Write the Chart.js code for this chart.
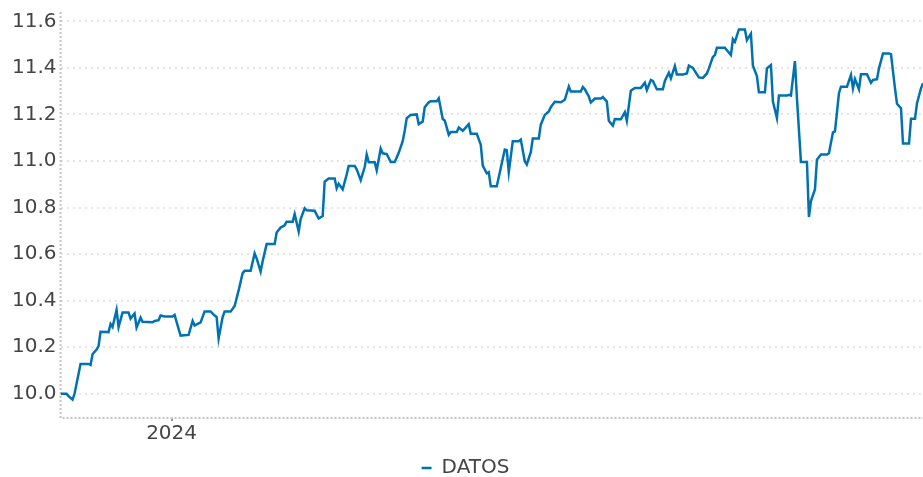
<!DOCTYPE html>
<html>
<head>
<meta charset="utf-8">
<script src="https://cdn.jsdelivr.net/npm/chart.js@4.4.0/dist/chart.umd.min.js"></script>
<style>
  html, body { margin: 0; padding: 0; background: #fff; }
  #wrap { width: 923px; height: 477px; position: relative; }
</style>
</head>
<body>
<div id="wrap"><canvas id="grafico"></canvas></div>
<script>
// ─── Datos ───────────────────────────────────────────────────────────────────
// dias: días desde el inicio de la serie (aprox. nov 2023)
const dias = [0, 3, 4, 6, 7, 10, 14, 15, 16, 18, 19, 20, 24, 25, 26, 28, 29, 31, 34, 35,
  37, 38, 40, 41, 46, 47, 49, 50, 52, 56, 57, 59, 60, 64, 66, 67, 70, 72, 75, 77,
  78, 79, 81, 82, 85, 87, 89, 91, 92, 95, 97, 98, 100, 101, 103, 107, 108, 110, 112, 113,
  116, 117, 119, 120, 122, 123, 127, 129, 131, 132, 134, 137, 138, 139, 141, 143, 144, 147, 148, 150,
  152, 153, 154, 157, 158, 160, 161, 163, 165, 167, 169, 171, 172, 173, 175, 178, 179, 181, 182, 184,
  185, 188, 189, 191, 192, 194, 195, 198, 199, 201, 202, 204, 205, 208, 210, 211, 213, 214, 215, 218,
  220, 222, 223, 224, 226, 229, 230, 232, 233, 235, 236, 239, 240, 242, 244, 245, 247, 250, 252, 254,
  255, 260, 261, 262, 264, 265, 267, 270, 271, 273, 274, 276, 277, 280, 282, 283, 285, 286, 287, 290,
  292, 293, 295, 296, 298, 301, 302, 304, 305, 307, 308, 311, 313, 314, 316, 317, 319, 321, 323, 324,
  326, 327, 328, 332, 333, 335, 336, 337, 339, 342, 343, 345, 346, 348, 349, 352, 353, 355, 356, 358,
  359, 363, 364, 365, 367, 368, 370, 373, 374, 375, 377, 378, 380, 383, 384, 386, 387, 389, 390, 393,
  395, 396, 397, 399, 400, 403, 405, 406, 408, 409, 411, 414, 415, 417, 418, 420, 421, 424, 425, 427,
  428, 430, 431];
const datos = [10.00, 10.00, 9.99, 9.975, 10.00, 10.128, 10.128, 10.124, 10.17, 10.19, 10.205, 10.266, 10.265, 10.30, 10.287, 10.36, 10.287, 10.349, 10.349, 10.323,
  10.345, 10.285, 10.327, 10.309, 10.307, 10.313, 10.316, 10.336, 10.332, 10.332, 10.339, 10.279, 10.25, 10.253, 10.313, 10.293, 10.307, 10.354, 10.354, 10.336,
  10.33, 10.238, 10.33, 10.353, 10.353, 10.377, 10.444, 10.518, 10.528, 10.528, 10.603, 10.582, 10.525, 10.569, 10.643, 10.643, 10.693, 10.714, 10.724, 10.739,
  10.739, 10.772, 10.697, 10.75, 10.797, 10.788, 10.786, 10.753, 10.764, 10.911, 10.925, 10.925, 10.883, 10.902, 10.878, 10.942, 10.979, 10.979, 10.964, 10.918,
  10.974, 11.028, 10.995, 10.995, 10.96, 11.053, 11.033, 11.03, 10.996, 10.996, 11.035, 11.085, 11.13, 11.184, 11.198, 11.20, 11.158, 11.17, 11.231, 11.252,
  11.257, 11.257, 11.269, 11.18, 11.174, 11.113, 11.124, 11.124, 11.144, 11.13, 11.139, 11.158, 11.117, 11.117, 11.07, 10.98, 10.947, 10.952, 10.891, 10.891,
  10.97, 11.049, 11.046, 10.953, 11.085, 11.085, 11.092, 10.999, 10.985, 11.038, 11.097, 11.097, 11.156, 11.198, 11.213, 11.231, 11.254, 11.252, 11.263, 11.32,
  11.298, 11.298, 11.318, 11.308, 11.277, 11.251, 11.268, 11.268, 11.275, 11.255, 11.173, 11.152, 11.18, 11.179, 11.21, 11.173, 11.302, 11.308, 11.314, 11.314,
  11.336, 11.305, 11.348, 11.344, 11.308, 11.308, 11.344, 11.379, 11.355, 11.408, 11.372, 11.372, 11.376, 11.41, 11.40, 11.386, 11.359, 11.357, 11.376, 11.398,
  11.447, 11.455, 11.486, 11.486, 11.476, 11.455, 11.523, 11.512, 11.565, 11.565, 11.519, 11.547, 11.409, 11.365, 11.295, 11.295, 11.398, 11.412, 11.255, 11.184,
  11.281, 11.281, 11.284, 11.281, 11.429, 11.27, 10.996, 10.996, 10.76, 10.828, 10.878, 11.006, 11.028, 11.028, 11.033, 11.123, 11.127, 11.291, 11.319, 11.319,
  11.369, 11.312, 11.352, 11.308, 11.373, 11.373, 11.336, 11.348, 11.351, 11.398, 11.462, 11.462, 11.459, 11.312, 11.246, 11.227, 11.075, 11.075, 11.181, 11.181,
  11.248, 11.312, 11.334];
const xTickDias = [55.5];
const xTickLabels = ['2024'];
const yTicks = [10.0, 10.2, 10.4, 10.6, 10.8, 11.0, 11.2, 11.4, 11.6];

// ─── Chart ───────────────────────────────────────────────────────────────────
const textColor = '#444';
const puntos = dias.map((d, i) => ({ x: d, y: datos[i] }));

// ejes punteados (el borde de Chart.js no admite guiones)
const ejesPunteados = {
  id: 'ejesPunteados',
  beforeDatasetsDraw(chart) {
    const { ctx, chartArea: a } = chart;
    ctx.save();
    ctx.strokeStyle = '#c4c4c4';
    ctx.lineWidth = 2;
    ctx.setLineDash([2, 2]);
    ctx.beginPath();
    ctx.moveTo(a.left, a.top);
    ctx.lineTo(a.left, a.bottom);
    ctx.lineTo(a.right, a.bottom);
    ctx.stroke();
    ctx.restore();
  }
};

new Chart(document.getElementById('grafico').getContext('2d'), {
  type: 'line',
  data: {
    datasets: [{
      label: 'DATOS',
      data: puntos,
      borderColor: '#0072b2',
      backgroundColor: '#0072b2',
      borderWidth: 2.5,
      pointRadius: 0,
      tension: 0,
      fill: false
    }]
  },
  options: {
    responsive: true,
    maintainAspectRatio: false,
    animation: false,
    layout: { padding: { left: 8, right: 0, top: -4, bottom: -11 } },
    plugins: {
      tooltip: { enabled: false },
      legend: {
        position: 'bottom',
        labels: {
          usePointStyle: true,
          pointStyle: 'line',
          pointStyleWidth: 10,
          color: textColor,
          font: { family: 'DejaVu Sans', size: 20, lineHeight: 1.05 },
          padding: 3
        }
      }
    },
    scales: {
      x: {
        type: 'linear',
        min: 0,
        max: dias[dias.length - 1],
        afterBuildTicks: axis => { axis.ticks = xTickDias.map(v => ({ value: v })); },
        afterFit: axis => { axis.height = 37; },
        ticks: {
          color: textColor,
          font: { family: 'DejaVu Sans', size: 20, lineHeight: 1.65 },
          padding: -4,
          maxRotation: 0,
          callback: (v) => xTickLabels[xTickDias.indexOf(v)] ?? ''
        },
        grid: { drawOnChartArea: false, drawTicks: true, tickLength: 3, color: '#999', lineWidth: 2 },
        border: { display: false }
      },
      y: {
        min: 9.896,
        max: 11.64,
        afterBuildTicks: axis => { axis.ticks = yTicks.map(v => ({ value: v })); },
        ticks: {
          color: textColor,
          font: { family: 'DejaVu Sans', size: 20, lineHeight: 0.8 },
          padding: 4,
          callback: v => v.toFixed(1)
        },
        grid: { color: '#e4e4e4', lineWidth: 2, drawTicks: false, tickLength: 0 },
        border: { display: false, dash: [2, 4] }
      }
    }
  },
  plugins: [ejesPunteados]
});
</script>
</body>
</html>
